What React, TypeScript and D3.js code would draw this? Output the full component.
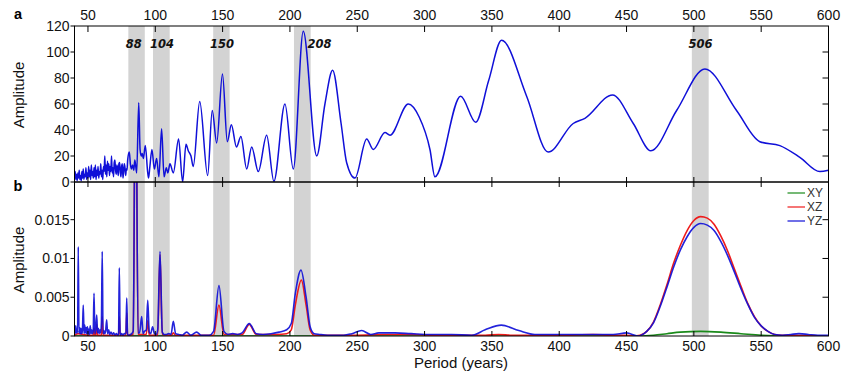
import React from "react";
import * as d3 from "d3";

// ---------- DATA ----------
const xTicks = [50, 100, 150, 200, 250, 300, 350, 400, 450, 500, 550, 600];
const topYTicks = [0, 20, 40, 60, 80, 100, 120];
const botYTicks = [0, 0.005, 0.01, 0.015];
const botYTickLabels = ["0", "0.005", "0.01", "0.015"];

const bandStart = [80, 98.3, 143, 203, 498.5];
const bandEnd = [92.2, 110.7, 155.2, 215.4, 511];
const bandLabels = ["88", "104", "150", "208", "506"];
const bandLabelAt = [84, 105, 149.6, 222, 505];

// panel a: amplitude spectrum (noise part sampled every 0.5 yr from 40)
const topNoiseAmp = [
  3, 8, 2, 6, 1, 7, 3, 9, 2, 5, 1, 8, 3, 10, 2, 6, 4, 11, 2, 7,
  3, 12, 4, 9, 2, 13, 5, 8, 3, 11, 4, 13, 2, 9, 5, 12, 3, 8, 6, 14,
  4, 9, 2, 12, 8, 20, 6, 13, 4, 16, 9, 14, 5, 12, 8, 20, 7, 11, 4, 15,
  17, 9, 6, 13, 10, 5, 14, 15, 8, 4, 12, 14, 3, 8, 14, 11, 5, 10, 9, 17,
];
const topPeriod = [
  80.7, 81.5, 82.2, 83.1, 84, 84.8, 86.2, 87.7, 88.7, 89.6, 90.3, 91.1, 92.6, 94.3, 95, 96,
  97.5, 99.3, 101, 102.7, 104.7, 106.5, 108.2, 109.3, 110.9, 113.4, 117.3, 120.3, 122.8, 124.5,
  126.5, 128.2, 133, 138.9, 142.3, 145.6, 149.9, 153.5, 156.5, 160.3, 163.6, 167.9, 171.6, 176.5,
  182.7, 188.1, 196.3, 202.5, 209.9, 219.9, 226, 231.7, 238, 242.1, 248.3, 257, 261.9, 270.6,
  274.3, 287.9, 296, 304, 307.7, 326.8, 338, 347.6, 357.2, 375.8, 391.8, 410.4, 419.1, 439.6,
  455, 468.1, 487.2, 508.2, 531.7, 549, 563.9, 578.7, 593.6, 600,
];
const topAmp = [
  23, 14, 10, 13, 9, 17, 7, 61, 25, 20, 22, 18, 28, 8, 3, 12,
  25, 10, 18, 4, 41, 4, 11, 7, 14, 7, 33, 0, 29, 24,
  20, 12, 62, 5, 55, 30, 83, 31, 44, 27, 35, 10, 27, 8,
  36, 0.5, 60, 10, 116, 20, 60, 86, 45, 15, 3, 33, 25, 38,
  36, 60, 50, 25, 4, 66, 46, 78, 109, 66, 23, 45, 49, 67,
  45, 24, 55, 87, 55, 31, 28, 19, 8, 9,
];

// panel b: cross-spectra
const xyPoints: [number, number][] = [
  [40, 0], [455, 0], [460, 0], [470, 0.0001], [480, 0.0003], [490, 0.0005], [505, 0.0006],
  [520, 0.0005], [535, 0.0003], [550, 0.0001], [565, 0], [600, 0],
];
const xzPoints: [number, number][] = [
  [40, 0.0001], [42.8, 0.0003], [46.5, 0.0002], [50, 0.0001], [53.9, 0.0001], [54.5, 0.001], [55.1, 0.0001],
  [55.9, 0.0001], [56.5, 0.0015], [57.1, 0.0001], [60, 0.0001], [60.6, 0.0025], [61.2, 0.0001],
  [66, 0.0001], [72.7, 0.0001], [73.3, 0.0025], [73.9, 0.0001], [78.2, 0.0001], [78.8, 0.003],
  [79.4, 0.0001], [83.6, 0.0002], [85.4, 0.04], [87.2, 0.0002], [93.3, 0.0002], [94.4, 0.002],
  [95.5, 0.0001], [101.8, 0.0001], [103.5, 0.0105], [105.2, 0.0002], [112, 0.0001], [113.4, 0.0004],
  [115, 0.0001], [143.3, 0.0001], [147.3, 0.004], [151, 0.0002], [158, 0.0002], [164.5, 0.0002],
  [169.8, 0.0015], [175, 0.0002], [190, 0.0002], [197.6, 0.0003], [201, 0.0008], [204, 0.004],
  [208.5, 0.0072], [212, 0.004], [215, 0.0008], [218, 0.0001], [250, 0.0001], [270, 0.0002],
  [290, 0.0002], [310, 0.0001], [345, 0.0001], [355, 0.0002], [365, 0.0001], [400, 0.0001],
  [425, 0.0002], [440, 0.0001], [450, 0.0001], [455, 0], [460, 0.0001], [465, 0.0006], [470, 0.0018],
  [475, 0.004], [480, 0.0066], [485, 0.0094], [490, 0.0117], [495, 0.0136], [500, 0.0149],
  [505, 0.0154], [510, 0.0152], [515, 0.0144], [520, 0.0129], [525, 0.011], [530, 0.0087],
  [535, 0.0064], [540, 0.0042], [545, 0.0025], [550, 0.0013], [555, 0.0006], [560, 0.0002],
  [565, 0.0001], [575, 0.0001], [600, 0],
];
const yzPoints: [number, number][] = [
  [40, 0.0011], [40.4, 0.0003], [40.9, 0.0013], [41.4, 0.0004], [41.9, 0.0009], [42.3, 0.0004],
  [42.8, 0.0115], [43.3, 0.0004], [43.8, 0.0011], [44.3, 0.0003], [44.8, 0.001], [45.3, 0.0003],
  [45.9, 0.0007], [46.5, 0.004], [47.1, 0.0003], [47.6, 0.0014], [48.1, 0.0004], [48.6, 0.0011],
  [49.1, 0.0003], [49.6, 0.0012], [50.1, 0.0003], [50.6, 0.0009], [51.1, 0.0002], [51.7, 0.0013],
  [52.2, 0.0003], [52.8, 0.0008], [53.3, 0.0003], [53.9, 0.0006], [54.5, 0.0055], [55.1, 0.0003],
  [55.7, 0.0007], [56.5, 0.0027], [57.1, 0.0004], [57.7, 0.001], [58.3, 0.0003], [58.9, 0.0008],
  [59.5, 0.0004], [60, 0.0018], [60.6, 0.0109], [61.2, 0.0003], [61.8, 0.0007], [62.4, 0.0003],
  [63.1, 0.0006], [63.9, 0.0021], [64.6, 0.0003], [65.4, 0.0008], [66.2, 0.0002], [67.1, 0.0005],
  [68.1, 0.0002], [69.1, 0.0004], [70.1, 0.0001], [71.1, 0.0003], [72.1, 0.0001], [72.7, 0.0002],
  [73.3, 0.0088], [73.9, 0.0001], [75, 0.0003], [76, 0.0001], [77, 0.0003], [78.2, 0.0003],
  [78.8, 0.0049], [79.4, 0.0002], [80.5, 0.0001], [81.5, 0.0002], [82.5, 0.0003], [83.6, 0.0006],
  [85.4, 0.04], [87.2, 0.0004], [88.3, 0.0004], [89.9, 0.0025], [90.9, 0.0003], [92, 0.0006],
  [93.3, 0.0008], [94.4, 0.0046], [95.5, 0.0005], [96.6, 0.0003], [98, 0.0012], [99.2, 0.0004],
  [100.5, 0.0002], [101.8, 0.0008], [103.5, 0.0109], [105.2, 0.0005], [106.6, 0.0002],
  [108.3, 0.0002], [110, 0.0003], [111.7, 0.0002], [113.4, 0.0019], [115.1, 0.0003],
  [117.5, 0.0002], [120, 0.0001], [123.3, 0.0005], [126.5, 0.0001], [130.7, 0.0005], [134, 0.0001],
  [140, 0.0001], [143.3, 0.0006], [147.3, 0.0065], [151, 0.0006], [154, 0.0002], [157.5, 0.0003],
  [161, 0.0002], [164.5, 0.0004], [169.8, 0.0016], [175, 0.0003], [180, 0.0002], [186, 0.0003],
  [192, 0.0005], [197.6, 0.0008], [201, 0.0016], [204, 0.0055], [208.2, 0.0085], [212, 0.005],
  [215, 0.0012], [218, 0.0003], [222, 0.0002], [228, 0.0001], [240, 0.0001], [246, 0.0003],
  [253.3, 0.0007], [260, 0.0002], [266, 0.0004], [278, 0.0004], [290, 0.0003], [305, 0.0002],
  [320, 0.0002], [335, 0.0001], [345, 0.0008], [357, 0.0014], [370, 0.0007], [382, 0.0002],
  [400, 0.0002], [420, 0.0002], [440, 0.0002], [450, 0.0004], [458.5, 0], [465, 0.0006],
  [470, 0.0017], [475, 0.0038], [480, 0.0063], [485, 0.0089], [490, 0.0111], [495, 0.0128],
  [500, 0.014], [505, 0.0145], [510, 0.0143], [515, 0.0136], [520, 0.0122], [525, 0.0104],
  [530, 0.0083], [535, 0.0061], [540, 0.0041], [545, 0.0024], [550, 0.0013], [555, 0.0006],
  [560, 0.0002], [566, 0.0001], [572, 0.0002], [578, 0.0003], [585, 0.0002], [592, 0.0001],
  [600, 0.0001],
];
const legendNames = ["XY", "XZ", "YZ"];
const legendColors = ["#1a8a1a", "#ee1c1c", "#1010d8"];

// ---------- LAYOUT ----------
const W = 850, H = 379;
const L = 74.5, R = 828.5;
const T1 = 26, B1 = 182, T2 = 182, B2 = 336;
const FONT = "'Liberation Sans', Arial, sans-serif";

export default function App() {
  const x = d3.scaleLinear().domain([40, 600]).range([L, R]);
  const yTop = d3.scaleLinear().domain([0, 120]).range([B1, T1]);
  const yBot = d3.scaleLinear().domain([0, 0.01986]).range([B2, T2]);

  const noisePeriods = d3.range(topNoiseAmp.length).map((i) => 40 + i * 0.5);
  const topPts: [number, number][] = [
    ...noisePeriods.map((p, i) => [p, topNoiseAmp[i]] as [number, number]),
    ...topPeriod.map((p, i) => [p, topAmp[i]] as [number, number]),
  ];
  const topLine = d3
    .line<[number, number]>()
    .x((d) => x(d[0]))
    .y((d) => yTop(d[1]))
    .curve(d3.curveMonotoneX);
  const botLine = d3
    .line<[number, number]>()
    .x((d) => x(d[0]))
    .y((d) => yBot(d[1]))
    .curve(d3.curveMonotoneX);

  const series = [xyPoints, xzPoints, yzPoints];

  return (
    <svg
      width={W}
      height={H}
      style={{ position: "absolute", left: 0, top: 0, display: "block", background: "#fff" }}
      fontFamily={FONT}
    >
      <defs>
        <clipPath id="clipTop">
          <rect x={L} y={T1} width={R - L} height={B1 - T1} />
        </clipPath>
        <clipPath id="clipBot">
          <rect x={L} y={T2} width={R - L} height={B2 - T2} />
        </clipPath>
      </defs>

      {/* shaded bands */}
      {bandStart.map((s, i) => (
        <rect key={"b" + i} x={x(s)} y={T1} width={x(bandEnd[i]) - x(s)} height={B2 - T1} fill="#d3d3d3" />
      ))}

      {/* panel a line */}
      <path d={topLine(topPts) || ""} fill="none" stroke="#1010d8" strokeWidth={1.5} clipPath="url(#clipTop)" />

      {/* panel b lines */}
      {series.map((s, i) => (
        <path
          key={"s" + i}
          d={botLine(s) || ""}
          fill="none"
          stroke={legendColors[i]}
          strokeWidth={1.6}
          strokeOpacity={i === 2 ? 0.92 : 1}
          clipPath="url(#clipBot)"
        />
      ))}

      {/* band labels */}
      {bandLabels.map((t, i) => (
        <text
          key={"bl" + i}
          x={x(bandLabelAt[i])}
          y={48}
          textAnchor="middle"
          fontFamily="'DejaVu Sans', sans-serif"
          fontWeight="bold"
          fontStyle="italic"
          fontSize={11.5}
          fill="#111"
        >
          {t}
        </text>
      ))}

      {/* frames */}
      <rect x={L} y={T1} width={R - L} height={B1 - T1} fill="none" stroke="#000" strokeWidth={1} />
      <rect x={L} y={T2} width={R - L} height={B2 - T2} fill="none" stroke="#000" strokeWidth={1} />

      {/* x ticks */}
      {xTicks.map((v) => (
        <g key={"xt" + v}>
          <line x1={x(v)} x2={x(v)} y1={T1} y2={T1 + 6} stroke="#000" />
          <line x1={x(v)} x2={x(v)} y1={B1 - 5} y2={B1 + 5} stroke="#000" />
          <line x1={x(v)} x2={x(v)} y1={B2 - 5} y2={B2} stroke="#000" />
          <text x={x(v)} y={20} textAnchor="middle" fontSize={14} fill="#111">
            {v}
          </text>
          <text x={x(v)} y={350.5} textAnchor="middle" fontSize={14} fill="#111">
            {v}
          </text>
        </g>
      ))}

      {/* y ticks top */}
      {topYTicks.map((v) => (
        <g key={"yt" + v}>
          <line x1={L - 4} x2={L} y1={yTop(v)} y2={yTop(v)} stroke="#000" />
          {v > 0 && v < 120 && <line x1={R - 6} x2={R} y1={yTop(v)} y2={yTop(v)} stroke="#000" />}
          <text x={L - 5} y={yTop(v)} dy="0.36em" textAnchor="end" fontSize={14} fill="#111">
            {v}
          </text>
        </g>
      ))}

      {/* y ticks bottom */}
      {botYTicks.map((v, i) => (
        <g key={"yb" + i}>
          <line x1={L - 4} x2={L} y1={yBot(v)} y2={yBot(v)} stroke="#000" />
          {v > 0 && <line x1={R - 6} x2={R} y1={yBot(v)} y2={yBot(v)} stroke="#000" />}
          <text x={L - 5} y={yBot(v)} dy="0.36em" textAnchor="end" fontSize={14} fill="#111">
            {botYTickLabels[i]}
          </text>
        </g>
      ))}

      {/* axis titles */}
      <text transform={`translate(24,95) rotate(-90)`} textAnchor="middle" fontSize={15} fill="#111">
        Amplitude
      </text>
      <text transform={`translate(24,260) rotate(-90)`} textAnchor="middle" fontSize={15} fill="#111">
        Amplitude
      </text>
      <text x={461} y={368} textAnchor="middle" fontSize={15} fill="#111">
        Period (years)
      </text>

      {/* panel letters */}
      <text x={18} y={19} textAnchor="middle" fontSize={14.5} fontWeight="bold" fill="#000">
        a
      </text>
      <text x={18} y={191} textAnchor="middle" fontSize={14.5} fontWeight="bold" fill="#000">
        b
      </text>

      {/* legend */}
      {legendNames.map((n, i) => (
        <g key={"lg" + i}>
          <line x1={787.5} x2={805} y1={193 + i * 14} y2={193 + i * 14} stroke={legendColors[i]} strokeWidth={1.2} />
          <text x={807} y={193 + i * 14} dy="0.36em" fontSize={12} fill="#333">
            {n}
          </text>
        </g>
      ))}
    </svg>
  );
}
